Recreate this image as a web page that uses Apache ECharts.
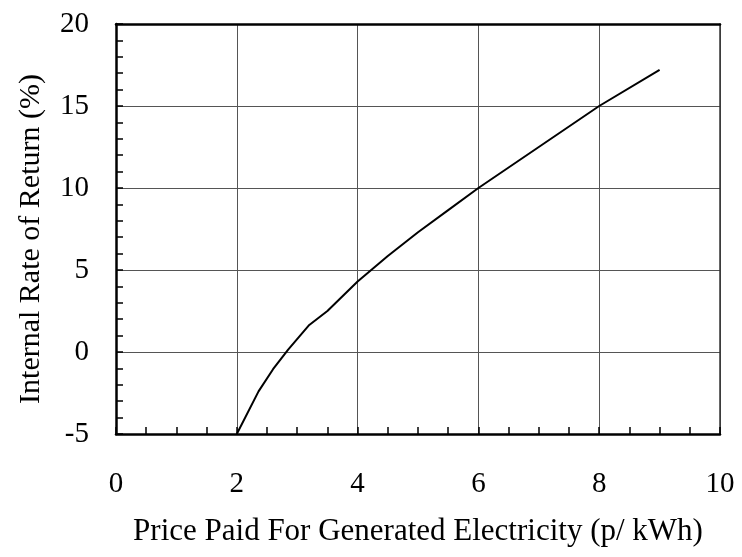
<!DOCTYPE html>
<html>
<head>
<meta charset="utf-8">
<script src="https://cdn.jsdelivr.net/npm/echarts@6/dist/echarts.min.js"></script>
<style>
  html, body { margin: 0; padding: 0; background: #fff; }
  #chart { width: 742px; height: 557px; }
</style>
</head>
<body>
<div id="chart"></div>
<script>
// Price paid for generated electricity (p/kWh)
const price = [2, 2.36, 2.6, 2.85, 3.2, 3.5, 4, 4.5, 5, 5.5, 6, 7, 8, 9];
// Internal rate of return (%)
const irr = [-5, -2.4, -1.05, 0.15, 1.65, 2.5, 4.3, 5.85, 7.3, 8.65, 10, 12.5, 15, 17.2];

const xTitle = 'Price Paid For Generated Electricity (p/ kWh)';
const yTitle = 'Internal Rate of Return (%)';

const font = '"Liberation Serif", "Times New Roman", serif';
const gridColor = '#555';

const chart = echarts.init(document.getElementById('chart'), null, { renderer: 'canvas' });

chart.setOption({
  animation: false,
  backgroundColor: '#fff',
  grid: { left: 116, right: 22, top: 24, bottom: 123, containLabel: false },
  xAxis: [{
    type: 'value',
    min: 0, max: 10, interval: 2,
    position: 'bottom',
    name: xTitle,
    nameLocation: 'middle',
    nameGap: 82,
    nameTextStyle: { fontFamily: font, fontSize: 31, color: '#000' },
    axisLine: { show: true, onZero: false, lineStyle: { color: '#000', width: 2.5 } },
    axisTick: { show: true, inside: true, length: 7, lineStyle: { color: '#000', width: 1.5 } },
    minorTick: { show: true, splitNumber: 4, length: 7, lineStyle: { color: '#000', width: 1.5 } },
    axisLabel: { fontFamily: font, fontSize: 29, color: '#000', margin: 36 },
    splitLine: { show: true, lineStyle: { color: gridColor, width: 1 } }
  }, {
    type: 'value',
    min: 0, max: 10, interval: 2,
    position: 'top',
    axisLine: { show: true, onZero: false, lineStyle: { color: '#000', width: 2.5 } },
    axisTick: { show: false },
    axisLabel: { show: false },
    splitLine: { show: false }
  }],
  yAxis: [{
    type: 'value',
    min: -5, max: 20, interval: 5,
    position: 'left',
    name: yTitle,
    nameLocation: 'middle',
    nameGap: 70,
    nameTextStyle: { fontFamily: font, fontSize: 30, color: '#000', padding: [0, 20, 0, 0] },
    axisLine: { show: true, onZero: false, lineStyle: { color: '#000', width: 2.5 } },
    axisTick: { show: true, inside: true, length: 7, lineStyle: { color: '#000', width: 1.5 } },
    minorTick: { show: true, splitNumber: 5, length: 7, lineStyle: { color: '#000', width: 1.5 } },
    axisLabel: { fontFamily: font, fontSize: 29, color: '#000', margin: 27 },
    splitLine: { show: true, lineStyle: { color: gridColor, width: 1 } }
  }, {
    type: 'value',
    min: -5, max: 20, interval: 5,
    position: 'right',
    axisLine: { show: true, onZero: false, lineStyle: { color: '#333', width: 1.5 } },
    axisTick: { show: false },
    axisLabel: { show: false },
    splitLine: { show: false }
  }],
  series: [{
    type: 'line',
    xAxisIndex: 0,
    yAxisIndex: 0,
    data: price.map((p, i) => [p, irr[i]]),
    showSymbol: false,
    symbol: 'none',
    lineStyle: { color: '#000', width: 2 },
    z: 5
  }]
});
</script>
</body>
</html>
